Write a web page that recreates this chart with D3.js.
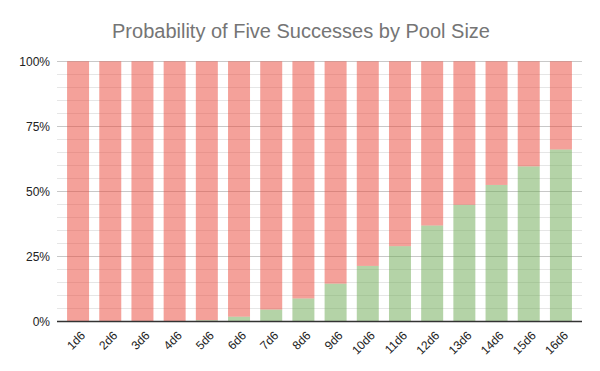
<!DOCTYPE html>
<html><head><meta charset="utf-8">
<script src="https://cdn.jsdelivr.net/npm/d3@7"></script>
<style>body{margin:0;background:#fff;} svg{display:block;font-family:"Liberation Sans",Arial,sans-serif;}</style>
</head><body>
<svg id="c" width="600" height="371"></svg>
<script>
const categories = ["1d6","2d6","3d6","4d6","5d6","6d6","7d6","8d6","9d6","10d6","11d6","12d6","13d6","14d6","15d6","16d6"];
const success = [0, 0, 0, 0, 0.0041, 0.0178, 0.0453, 0.0879, 0.1448, 0.2131, 0.2890, 0.3685, 0.4480, 0.5245, 0.5959, 0.6609];
const failure = [1, 1, 1, 1, 0.9959, 0.9822, 0.9547, 0.9121, 0.8552, 0.7869, 0.7110, 0.6315, 0.5520, 0.4755, 0.4041, 0.3391];
const yTicks = [0, 0.25, 0.5, 0.75, 1];
const title = "Probability of Five Successes by Pool Size";

(function(){
const svg = d3.select("#c");
const pL = 57, pR = 582, pT = 61.3, pB = 321.3;
const x = d3.scaleBand().domain(categories).range([pL, pR]).paddingInner(0.317).paddingOuter(0.313);
const y = d3.scaleLinear().domain([0, 1]).range([pB, pT]);

svg.append("text").attr("x", 301).attr("y", 38).attr("text-anchor", "middle")
  .attr("font-size", 20).attr("fill", "#757575").text(title);

const minor = d3.range(0, 1.0001, 0.05).filter(v => Math.abs(v*4 - Math.round(v*4)) > 1e-6);
svg.append("g").selectAll("line").data(minor).join("line")
  .attr("x1", pL).attr("x2", pR).attr("y1", d => Math.round(y(d))+0.5).attr("y2", d => Math.round(y(d))+0.5)
  .attr("stroke", "#e6e6e6").attr("stroke-width", 1);
svg.append("g").selectAll("line").data(yTicks.filter(d => d > 0)).join("line")
  .attr("x1", pL).attr("x2", pR).attr("y1", d => Math.round(y(d))+0.5).attr("y2", d => Math.round(y(d))+0.5)
  .attr("stroke", "#c8c8c8").attr("stroke-width", 1);

const stack = categories.map((c, i) => ({c, s: success[i], f: failure[i]}));
const g = svg.append("g");
g.selectAll("rect.s").data(stack).join("rect").attr("class","s")
  .attr("x", d => x(d.c)).attr("width", x.bandwidth())
  .attr("y", d => y(d.s)).attr("height", d => y(0) - y(d.s))
  .attr("fill", "#6aa84f").attr("fill-opacity", 0.5);
g.selectAll("rect.f").data(stack).join("rect").attr("class","f")
  .attr("x", d => x(d.c)).attr("width", x.bandwidth())
  .attr("y", d => y(d.s + d.f)).attr("height", d => y(d.s) - y(d.s + d.f))
  .attr("fill", "#ea4335").attr("fill-opacity", 0.5);

const yAxis = d3.axisLeft(y).tickValues(yTicks).tickFormat(d3.format(".0%")).tickSize(0).tickPadding(7);
const ya = svg.append("g").attr("transform", `translate(${pL},0)`).call(yAxis);
ya.select(".domain").remove();
ya.selectAll("text").attr("font-size", 12).attr("fill", "#222").attr("font-family", "Liberation Sans, Arial, sans-serif");

const xAxis = d3.axisBottom(x).tickSize(0).tickPadding(0);
const xa = svg.append("g").attr("transform", `translate(0,${pB})`).call(xAxis);
xa.select(".domain").remove();
xa.selectAll("text").attr("font-size", 12).attr("fill", "#222").attr("font-family", "Liberation Sans, Arial, sans-serif")
  .attr("text-anchor", "end").attr("dy", null).attr("y", null)
  .attr("transform", "translate(8,15) rotate(-45)");
svg.append("line").attr("x1", pL).attr("x2", pR).attr("y1", Math.round(pB)+0.5).attr("y2", Math.round(pB)+0.5)
  .attr("stroke", "#333").attr("stroke-width", 1.3);
})();
</script>
</body></html>
